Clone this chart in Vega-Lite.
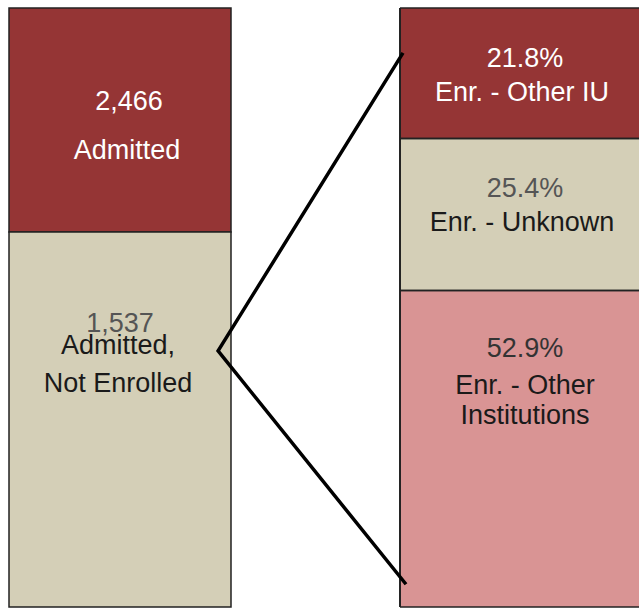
{
  "$schema": "https://vega.github.io/schema/vega-lite/v6.json",
  "padding": {"left": 8, "top": 7, "right": 0, "bottom": 4},
  "background": "white",
  "spacing": 169,
  "bounds": "flush",
  "resolve": {"scale": {"fill": "independent", "y": "independent", "x": "independent", "color": "independent"}},
  "config": {
    "view": {"stroke": null},
    "text": {"font": "Liberation Sans", "fontSize": 27, "baseline": "middle"}
  },
  "hconcat": [
    {
      "width": 222,
      "height": 599,
      "data": {"values": [
        {"group": "Admitted", "label": "Admitted", "count": 2466, "share": 37.4, "order": 1},
        {"group": "Admitted, Not Enrolled", "label": "Admitted,\nNot Enrolled", "count": 1537, "share": 62.6, "order": 2}
      ]},
      "transform": [
        {"stack": "share", "groupby": [], "sort": [{"field": "order", "order": "ascending"}], "as": ["y0", "y1"]}
      ],
      "layer": [
        {
          "mark": {"type": "rect", "stroke": "#222222", "strokeWidth": 1.5},
          "encoding": {
            "y": {"field": "y0", "type": "quantitative", "scale": {"domain": [0, 100], "reverse": true, "nice": false}, "axis": null},
            "y2": {"field": "y1"},
            "fill": {"field": "group", "type": "nominal", "scale": {"domain": ["Admitted", "Admitted, Not Enrolled"], "range": ["#953535", "#d4cfb7"]}, "legend": null}
          }
        },
        {
          "transform": [{"filter": "datum.order === 1"}],
          "mark": {"type": "text", "dy": 94, "dx": 9, "color": "white"},
          "encoding": {
            "y": {"field": "y0", "type": "quantitative"},
            "text": {"field": "count", "type": "quantitative", "format": ","}
          }
        },
        {
          "transform": [{"filter": "datum.order === 1"}],
          "mark": {"type": "text", "dy": 143, "dx": 7, "color": "white"},
          "encoding": {
            "y": {"field": "y0", "type": "quantitative"},
            "text": {"field": "label", "type": "nominal"}
          }
        },
        {
          "transform": [{"filter": "datum.order === 2"}],
          "mark": {"type": "text", "dy": 92, "dx": 0, "color": "#555555"},
          "encoding": {
            "y": {"field": "y0", "type": "quantitative"},
            "text": {"field": "count", "type": "quantitative", "format": ","}
          }
        },
        {
          "transform": [{"filter": "datum.order === 2"}],
          "mark": {"type": "text", "dy": 114, "dx": -2, "color": "#1a1a1a", "lineBreak": "\n", "lineHeight": 38},
          "encoding": {
            "y": {"field": "y0", "type": "quantitative"},
            "text": {"field": "label", "type": "nominal"}
          }
        }
      ]
    },
    {
      "width": 240,
      "height": 599,
      "data": {"values": [
        {"outcome": "Enr. - Other IU", "label": "Enr. - Other IU", "pct": 0.218, "order": 1},
        {"outcome": "Enr. - Unknown", "label": "Enr. - Unknown", "pct": 0.254, "order": 2},
        {"outcome": "Enr. - Other Institutions", "label": "Enr. - Other\nInstitutions", "pct": 0.529, "order": 3}
      ]},
      "transform": [
        {"stack": "pct", "groupby": [], "sort": [{"field": "order", "order": "ascending"}], "as": ["y0", "y1"]}
      ],
      "layer": [
        {
          "mark": {"type": "rect"},
          "encoding": {
            "x": {"datum": 0, "type": "quantitative", "scale": {"domain": [0, 1], "nice": false}, "axis": null},
            "x2": {"datum": 1},
            "y": {"field": "y0", "type": "quantitative", "scale": {"domain": [0, 1.001], "reverse": true, "nice": false}, "axis": null},
            "y2": {"field": "y1"},
            "fill": {"field": "outcome", "type": "nominal", "scale": {"domain": ["Enr. - Other IU", "Enr. - Unknown", "Enr. - Other Institutions"], "range": ["#953535", "#d4cfb7", "#d99494"]}, "legend": null}
          }
        },
        {
          "mark": {"type": "rule", "color": "#222222", "strokeWidth": 1.5},
          "encoding": {
            "x": {"datum": 0, "type": "quantitative"},
            "x2": {"datum": 1},
            "y": {"field": "y0", "type": "quantitative"}
          }
        },
        {
          "mark": {"type": "rule", "color": "#222222", "strokeWidth": 1.5},
          "encoding": {
            "x": {"datum": 0, "type": "quantitative"},
            "x2": {"datum": 1},
            "y": {"field": "y1", "type": "quantitative"}
          }
        },
        {
          "mark": {"type": "rule", "color": "#222222", "strokeWidth": 1.5},
          "encoding": {
            "x": {"datum": 0, "type": "quantitative"},
            "y": {"datum": 0, "type": "quantitative"},
            "y2": {"datum": 1.001}
          }
        },
        {
          "transform": [{"filter": "datum.order <= 2"}],
          "mark": {"type": "text", "dy": 51, "dx": 5},
          "encoding": {
            "y": {"field": "y0", "type": "quantitative"},
            "text": {"field": "pct", "type": "quantitative", "format": ".1%"},
            "color": {"condition": {"test": "datum.order === 1", "value": "white"}, "value": "#555555"}
          }
        },
        {
          "transform": [{"filter": "datum.order === 3"}],
          "mark": {"type": "text", "dy": 59, "dx": 5, "color": "#333333"},
          "encoding": {
            "y": {"field": "y0", "type": "quantitative"},
            "text": {"field": "pct", "type": "quantitative", "format": ".1%"}
          }
        },
        {
          "transform": [{"filter": "datum.order <= 2"}],
          "mark": {"type": "text", "dy": 85, "dx": 2},
          "encoding": {
            "y": {"field": "y0", "type": "quantitative"},
            "text": {"field": "label", "type": "nominal"},
            "color": {"condition": {"test": "datum.order === 1", "value": "white"}, "value": "#1a1a1a"}
          }
        },
        {
          "transform": [{"filter": "datum.order === 3"}],
          "mark": {"type": "text", "dy": 96, "dx": 5, "color": "#1a1a1a", "lineBreak": "\n", "lineHeight": 30},
          "encoding": {
            "y": {"field": "y0", "type": "quantitative"},
            "text": {"field": "label", "type": "nominal"}
          }
        },
        {
          "data": {"values": [
            {"point": "top", "lx": 0.0125, "ly": 0.075, "seq": 1},
            {"point": "apex", "lx": -0.758, "ly": 0.573, "seq": 2},
            {"point": "bottom", "lx": 0.025, "ly": 0.963, "seq": 3}
          ]},
          "mark": {"type": "line", "color": "black", "strokeWidth": 3.5},
          "encoding": {
            "x": {"field": "lx", "type": "quantitative"},
            "y": {"field": "ly", "type": "quantitative"},
            "order": {"field": "seq"}
          }
        }
      ]
    }
  ]
}
